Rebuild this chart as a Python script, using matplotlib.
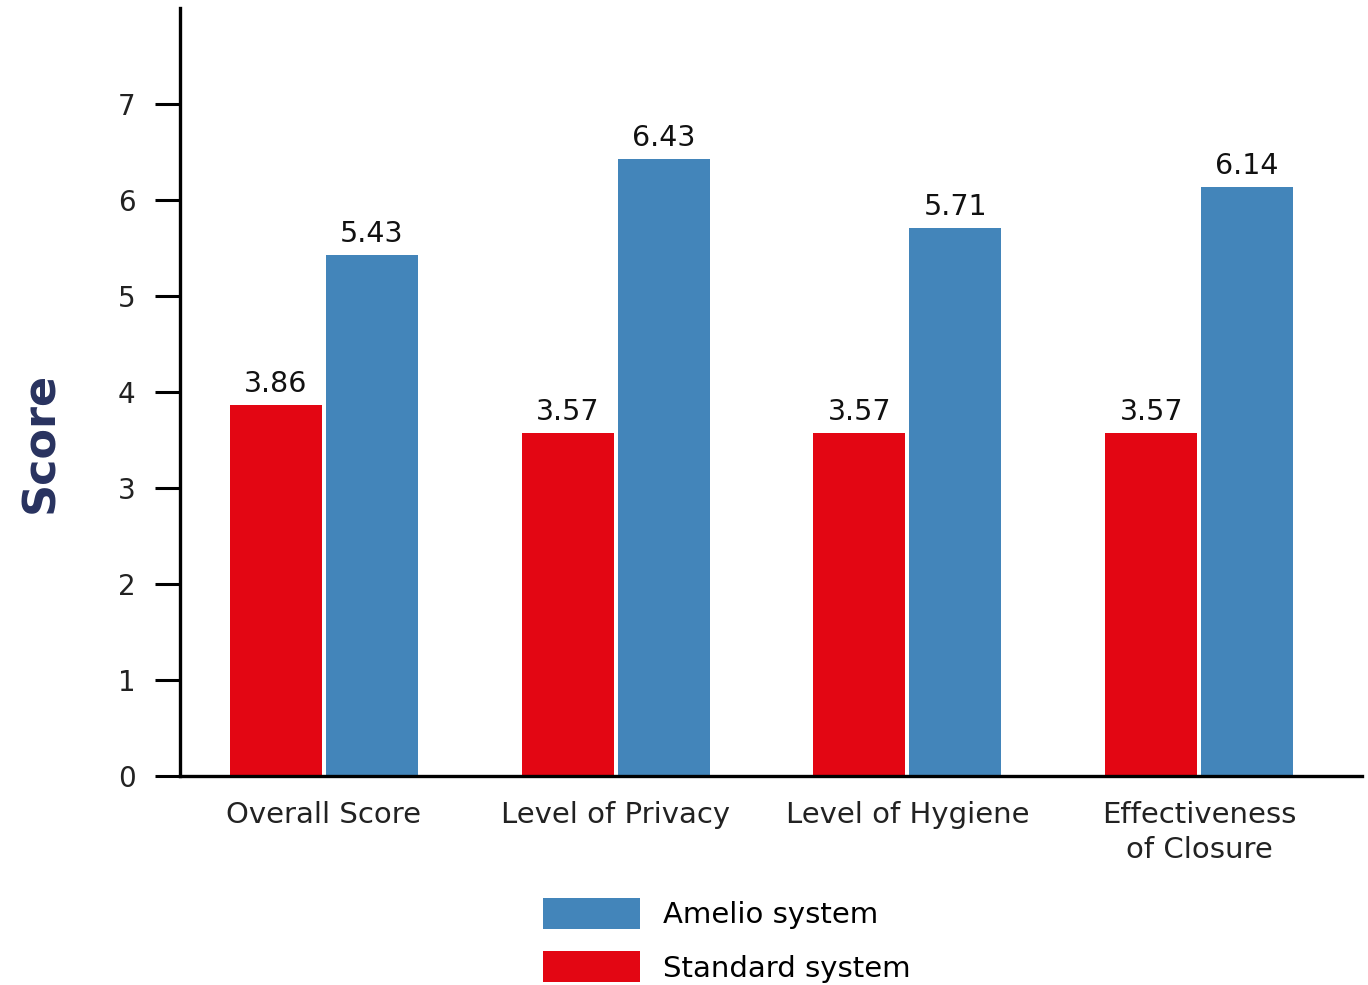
import matplotlib
matplotlib.use('Agg')
import matplotlib.pyplot as plt
import numpy as np

categories = ['Overall Score', 'Level of Privacy', 'Level of Hygiene', 'Effectiveness\nof Closure']
standard = [3.86, 3.57, 3.57, 3.57]
amelio = [5.43, 6.43, 5.71, 6.14]

red = '#E30613'
blue = '#4385BA'
navy = '#28325F'

plt.rcParams['font.family'] = ['DejaVu Sans']

fig = plt.figure(figsize=(13.68, 9.85), dpi=100)
ax = fig.add_axes([180 / 1368, 1 - 776 / 985, (1362 - 180) / 1368, (776 - 8) / 985])

x = np.arange(len(categories))
w = 0.315
off = 0.1644
b1 = ax.bar(x - off, standard, w, color=red, label='Standard system')
b2 = ax.bar(x + off, amelio, w, color=blue, label='Amelio system')

# value labels above each bar
for bars in (b1, b2):
    for b in bars:
        ax.annotate(f'{b.get_height():.2f}', (b.get_x() + b.get_width() / 2, b.get_height()),
                    xytext=(0, 5), textcoords='offset points', ha='center', va='bottom',
                    fontsize=20.5, color='#111111')

ax.set_xlim(-0.493, 3.558)
ax.set_ylim(0, 8)
ax.set_yticks(range(8))
ax.set_xticks(x)
ax.set_xticklabels(categories, fontsize=21, color='#222222', linespacing=1.3)
ax.tick_params(axis='y', length=18, width=2.2, pad=14, labelsize=20, labelcolor='#222222')
ax.tick_params(axis='x', length=0, pad=18)

for s in ('top', 'right'):
    ax.spines[s].set_visible(False)
for s in ('left', 'bottom'):
    ax.spines[s].set_linewidth(2.4)

ax.set_ylabel('Score', fontsize=32, fontweight='bold', color=navy)
ax.yaxis.set_label_coords(-0.1, 0.434)

handles = [b2, b1]
fig.legend(handles, ['Amelio system', 'Standard system'], loc='upper left',
           bbox_to_anchor=(543 / 1368, 1 - 898 / 985), frameon=False, fontsize=21,
           handlelength=3.34, handleheight=1.25, labelspacing=0.76, handletextpad=0.76,
           borderpad=0, borderaxespad=0)

fig.savefig('out.png', dpi=100)
